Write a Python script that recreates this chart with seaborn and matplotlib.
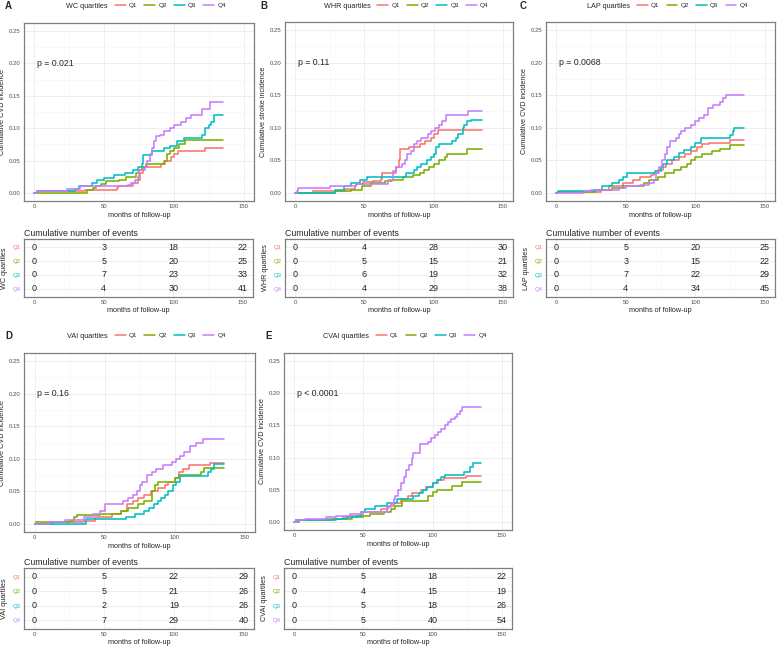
import matplotlib
matplotlib.use("Agg")
import matplotlib.pyplot as plt
from matplotlib.lines import Line2D
from matplotlib.ticker import MultipleLocator, FixedLocator
import pandas as pd
import seaborn as sns

W, H = 777, 648

GROUPS = ["Q1", "Q2", "Q3", "Q4"]
COLORS = ["#F8766D", "#7CAE00", "#00BFC4", "#C77CFF"]
TABLE_TIMES = [0, 50, 100, 150]

# step curves: (months, cumulative incidence)
wc_q1 = [(0, 0), (2, 0.003), (36, 0.005), (59, 0.008), (60, 0.01), (71, 0.015), (74, 0.02), (76, 0.03),
         (78, 0.04), (91, 0.045), (94, 0.05), (98, 0.055), (100, 0.06), (103, 0.064), (122, 0.069), (135, 0.069)]
wc_q2 = [(0, 0), (38, 0.005), (42, 0.008), (44, 0.01), (48, 0.013), (51, 0.018), (61, 0.02), (66, 0.025),
         (73, 0.03), (75, 0.035), (77, 0.04), (80, 0.045), (93, 0.05), (95, 0.06), (97, 0.065), (100, 0.07),
         (104, 0.075), (108, 0.081), (135, 0.081)]
wc_q3 = [(0, 0), (2, 0.003), (29, 0.006), (32, 0.01), (41, 0.015), (45, 0.02), (50, 0.023), (57, 0.027),
         (65, 0.03), (71, 0.035), (74, 0.04), (77, 0.045), (78, 0.059), (84, 0.065), (93, 0.07), (97, 0.073),
         (102, 0.08), (107, 0.085), (120, 0.09), (122, 0.1), (125, 0.105), (127, 0.11), (129, 0.12), (135, 0.12)]
wc_q4 = [(0, 0), (2, 0.003), (23, 0.006), (33, 0.01), (67, 0.012), (69, 0.015), (72, 0.02), (74, 0.025),
         (75, 0.035), (79, 0.04), (81, 0.05), (83, 0.06), (84, 0.07), (86, 0.08), (87, 0.088), (90, 0.09),
         (93, 0.095), (97, 0.1), (100, 0.105), (105, 0.11), (109, 0.115), (112, 0.12), (120, 0.13),
         (126, 0.141), (135, 0.141)]

whr_q1 = [(0, 0), (13, 0.003), (36, 0.006), (43, 0.01), (44, 0.013), (49, 0.016), (56, 0.018), (62, 0.022),
          (63, 0.03), (71, 0.033), (73, 0.04), (75, 0.05), (76, 0.068), (82, 0.07), (90, 0.075), (94, 0.08),
          (98, 0.085), (100, 0.09), (103, 0.096), (135, 0.096)]
whr_q2 = [(0, 0), (29, 0.003), (40, 0.005), (48, 0.01), (55, 0.015), (65, 0.018), (70, 0.02), (78, 0.025),
          (85, 0.028), (90, 0.03), (93, 0.035), (97, 0.04), (100, 0.045), (104, 0.05), (108, 0.055),
          (110, 0.06), (124, 0.067), (135, 0.067)]
whr_q3 = [(0, 0), (29, 0.005), (35, 0.01), (40, 0.015), (47, 0.02), (52, 0.024), (70, 0.025), (80, 0.03),
          (86, 0.035), (88, 0.04), (91, 0.045), (95, 0.05), (98, 0.055), (100, 0.06), (102, 0.07),
          (104, 0.075), (113, 0.08), (116, 0.085), (118, 0.09), (121, 0.1), (122, 0.105), (124, 0.11),
          (127, 0.112), (135, 0.112)]
whr_q4 = [(0, 0), (1, 0.003), (2, 0.007), (25, 0.01), (44, 0.013), (67, 0.02), (71, 0.03), (73, 0.04),
          (77, 0.045), (79, 0.05), (81, 0.06), (84, 0.065), (86, 0.075), (88, 0.08), (91, 0.085), (96, 0.09),
          (98, 0.095), (101, 0.1), (104, 0.105), (106, 0.11), (109, 0.12), (125, 0.126), (135, 0.126)]

lap_q1 = [(0, 0), (1, 0.002), (32, 0.005), (38, 0.01), (48, 0.015), (55, 0.02), (60, 0.025), (68, 0.028),
          (70, 0.03), (73, 0.035), (77, 0.04), (79, 0.045), (83, 0.05), (88, 0.055), (93, 0.06), (97, 0.065),
          (101, 0.07), (105, 0.075), (110, 0.077), (125, 0.081), (135, 0.081)]
lap_q2 = [(0, 0), (1, 0.002), (28, 0.005), (40, 0.008), (48, 0.01), (63, 0.015), (67, 0.02), (73, 0.025),
          (78, 0.03), (85, 0.035), (90, 0.04), (94, 0.045), (97, 0.05), (100, 0.055), (105, 0.06),
          (112, 0.065), (118, 0.068), (125, 0.073), (135, 0.073)]
lap_q3 = [(0, 0), (1, 0.003), (28, 0.005), (33, 0.01), (40, 0.015), (45, 0.02), (48, 0.025), (51, 0.03),
          (71, 0.034), (75, 0.04), (77, 0.045), (80, 0.05), (85, 0.055), (88, 0.061), (92, 0.066),
          (97, 0.071), (100, 0.076), (104, 0.084), (125, 0.089), (127, 0.095), (128, 0.1), (135, 0.1)]
lap_q4 = [(0, 0), (20, 0.003), (25, 0.005), (45, 0.008), (50, 0.01), (60, 0.012), (67, 0.015), (70, 0.02),
          (72, 0.03), (74, 0.04), (76, 0.05), (78, 0.06), (80, 0.07), (82, 0.08), (86, 0.085), (88, 0.09),
          (90, 0.095), (93, 0.1), (97, 0.105), (100, 0.11), (103, 0.115), (106, 0.12), (109, 0.13),
          (113, 0.135), (118, 0.14), (120, 0.145), (122, 0.151), (135, 0.151)]

vai_q1 = [(0, 0), (13, 0.003), (35, 0.005), (43, 0.01), (55, 0.015), (62, 0.02), (66, 0.03), (70, 0.035),
          (74, 0.04), (78, 0.045), (83, 0.05), (88, 0.055), (93, 0.06), (95, 0.065), (100, 0.07), (103, 0.08),
          (106, 0.085), (110, 0.09), (125, 0.094), (135, 0.094)]
vai_q2 = [(0, 0), (1, 0.003), (25, 0.005), (28, 0.01), (30, 0.013), (47, 0.015), (62, 0.02), (67, 0.025),
          (74, 0.03), (78, 0.035), (84, 0.05), (86, 0.06), (88, 0.065), (100, 0.07), (103, 0.075),
          (119, 0.08), (121, 0.086), (135, 0.086)]
vai_q3 = [(0, 0), (37, 0.007), (65, 0.01), (72, 0.015), (78, 0.02), (82, 0.025), (85, 0.03), (88, 0.035),
          (90, 0.04), (93, 0.045), (95, 0.05), (99, 0.06), (101, 0.065), (104, 0.073), (124, 0.08),
          (126, 0.085), (128, 0.092), (135, 0.092)]
vai_q4 = [(0, 0), (10, 0.003), (22, 0.006), (35, 0.01), (42, 0.015), (47, 0.02), (50, 0.03), (63, 0.035),
          (67, 0.04), (70, 0.045), (73, 0.05), (75, 0.06), (77, 0.065), (80, 0.075), (84, 0.08), (87, 0.085),
          (92, 0.09), (98, 0.095), (101, 0.1), (104, 0.105), (107, 0.11), (111, 0.12), (115, 0.125),
          (120, 0.131), (135, 0.131)]

cvai_q1 = [(0, 0), (1, 0.003), (22, 0.005), (35, 0.008), (40, 0.01), (50, 0.015), (63, 0.02), (68, 0.025),
           (72, 0.03), (77, 0.035), (82, 0.04), (85, 0.045), (92, 0.05), (95, 0.055), (100, 0.06),
           (104, 0.065), (108, 0.068), (124, 0.072), (135, 0.072)]
cvai_q2 = [(0, 0), (1, 0.003), (28, 0.005), (42, 0.008), (50, 0.01), (55, 0.013), (65, 0.015), (70, 0.02),
           (73, 0.025), (78, 0.033), (97, 0.04), (100, 0.047), (103, 0.05), (114, 0.056), (121, 0.062),
           (135, 0.062)]
cvai_q3 = [(0, 0), (3, 0.003), (30, 0.005), (38, 0.008), (45, 0.01), (48, 0.015), (51, 0.02), (58, 0.025),
           (67, 0.03), (74, 0.035), (86, 0.04), (90, 0.045), (93, 0.05), (96, 0.055), (100, 0.06),
           (103, 0.065), (106, 0.07), (109, 0.073), (123, 0.078), (127, 0.085), (129, 0.092), (135, 0.092)]
cvai_q4 = [(0, 0), (1, 0.003), (8, 0.005), (23, 0.008), (30, 0.01), (40, 0.013), (48, 0.015), (67, 0.023),
           (70, 0.028), (72, 0.035), (73, 0.04), (75, 0.05), (77, 0.06), (79, 0.07), (81, 0.08), (83, 0.088),
           (85, 0.1), (86, 0.107), (91, 0.121), (97, 0.125), (99, 0.13), (102, 0.135), (104, 0.14),
           (106, 0.145), (109, 0.15), (111, 0.155), (113, 0.16), (116, 0.163), (118, 0.167), (120, 0.172),
           (121, 0.178), (135, 0.178)]

# cumulative number of events at 0, 50, 100, 150 months (rows Q1..Q4)
wc_events = [[0, 3, 18, 22], [0, 5, 20, 25], [0, 7, 23, 33], [0, 4, 30, 41]]
whr_events = [[0, 4, 28, 30], [0, 5, 15, 21], [0, 6, 19, 32], [0, 4, 29, 38]]
lap_events = [[0, 5, 20, 25], [0, 3, 15, 22], [0, 7, 22, 29], [0, 4, 34, 45]]
vai_events = [[0, 5, 22, 29], [0, 5, 21, 26], [0, 2, 19, 26], [0, 7, 29, 40]]
cvai_events = [[0, 5, 18, 22], [0, 4, 15, 19], [0, 5, 18, 26], [0, 5, 40, 54]]

# letter, index name, y label, p value, curves, events, plot box px, table box px, letter px
PANELS = [
    ("A", "WC", "Cumulative CVD incidence", "p = 0.021", [wc_q1, wc_q2, wc_q3, wc_q4], wc_events,
     (24, 23, 254, 201), (24, 239, 253, 297), (5, 6)),
    ("B", "WHR", "Cumulative stroke incidence", "p = 0.11", [whr_q1, whr_q2, whr_q3, whr_q4], whr_events,
     (285, 22, 513, 201), (285, 239, 513, 297), (260, 6)),
    ("C", "LAP", "Cumulative CVD incidence", "p = 0.0068", [lap_q1, lap_q2, lap_q3, lap_q4], lap_events,
     (546, 22, 775, 201), (546, 239, 775, 297), (520, 6)),
    ("D", "VAI", "Cumulative CVD incidence", "p = 0.16", [vai_q1, vai_q2, vai_q3, vai_q4], vai_events,
     (24, 353, 255, 532), (24, 568, 254, 629), (5, 336)),
    ("E", "CVAI", "Cumulative CVD incidence", "p < 0.0001", [cvai_q1, cvai_q2, cvai_q3, cvai_q4], cvai_events,
     (284, 353, 512, 530), (284, 568, 512, 629), (265, 336)),
]

BORDER = "#7F7F7F"
MAJOR = "#EBEBEB"
MINOR = "#F5F5F5"
TICKTXT = "#4D4D4D"


def px_rect(l, t, r, b):
    return [l / W, 1 - b / H, (r - l) / W, (b - t) / H]


def style_axes(ax):
    for sp in ax.spines.values():
        sp.set_color(BORDER)
        sp.set_linewidth(0.9)
    ax.set_axisbelow(True)
    ax.grid(True, which="major", color=MAJOR, lw=0.6)
    ax.grid(True, which="minor", color=MINOR, lw=0.4)
    ax.tick_params(which="major", length=1.5, width=0.5, color="#333333", labelsize=4.3,
                   labelcolor=TICKTXT, pad=1)
    ax.tick_params(which="minor", length=0)
    ax.set_xlim(-7.5, 157.5)
    ax.xaxis.set_major_locator(FixedLocator(TABLE_TIMES))
    ax.xaxis.set_minor_locator(FixedLocator([25, 75, 125]))


def draw_panel(fig, letter, name, ylabel, pval, curves, events, plot_box, table_box, letter_xy):
    ax = fig.add_axes(px_rect(*plot_box))
    df = pd.concat([pd.DataFrame(c, columns=["time", "cuminc"]).assign(group=g)
                    for g, c in zip(GROUPS, curves)], ignore_index=True)
    sns.lineplot(data=df, x="time", y="cuminc", hue="group", hue_order=GROUPS, palette=COLORS,
                 estimator=None, drawstyle="steps-post", lw=1.15, legend=False, ax=ax)
    style_axes(ax)
    ax.set_ylim(-0.0125, 0.2625)
    ax.yaxis.set_major_locator(MultipleLocator(0.05))
    ax.yaxis.set_minor_locator(MultipleLocator(0.025))
    ax.yaxis.set_major_formatter(lambda v, _: f"{v:.2f}")
    ax.set_xlabel("months of follow-up", fontsize=5.2, labelpad=2)
    ax.set_ylabel(ylabel, fontsize=5.2, labelpad=2)
    ax.text(2, 0.2, pval, fontsize=6.3, ha="left", va="center")

    # legend on top: title as an empty first entry so it sits inline
    handles = [Line2D([], [], color="none", label=f"{name} quartiles")]
    handles += [Line2D([], [], color=c, lw=1.1, label=g) for g, c in zip(GROUPS, COLORS)]
    height_px = plot_box[3] - plot_box[1]
    gap_px = plot_box[1] - letter_xy[1]
    leg = ax.legend(handles=handles, ncol=5, loc="center", frameon=False,
                    bbox_to_anchor=(0.5, 1 + gap_px / height_px),
                    fontsize=4.6, handlelength=1.7, handletextpad=0.5, columnspacing=1.1)
    leg.get_texts()[0].set_fontsize(5.2)

    fig.text(letter_xy[0] / W, 1 - letter_xy[1] / H, letter, fontsize=7, fontweight="bold",
             ha="left", va="center")

    # risk table
    tx = fig.add_axes(px_rect(*table_box))
    style_axes(tx)
    tx.set_ylim(4.6, 0.4)
    tx.yaxis.set_major_locator(FixedLocator([1, 2, 3, 4]))
    tx.set_yticklabels(GROUPS)
    for lab, c in zip(tx.get_yticklabels(), COLORS):
        lab.set_color(c)
    for i, row in enumerate(events):
        for t, n in zip(TABLE_TIMES, row):
            tx.text(t, i + 1, str(n), fontsize=6.5, ha="center", va="center")
    tx.set_title("Cumulative number of events", loc="left", fontsize=6.3, pad=2)
    tx.set_xlabel("months of follow-up", fontsize=5.2, labelpad=1)
    tx.set_ylabel(f"{name} quartiles", fontsize=5.2, labelpad=3)


def main():
    sns.set_theme(style="whitegrid")
    plt.rcParams["font.family"] = ["Liberation Sans", "DejaVu Sans"]
    fig = plt.figure(figsize=(W / 100, H / 100), dpi=100)
    fig.patch.set_facecolor("white")
    for p in PANELS:
        draw_panel(fig, *p)
    fig.savefig("out.png", dpi=100)


if __name__ == "__main__":
    main()
